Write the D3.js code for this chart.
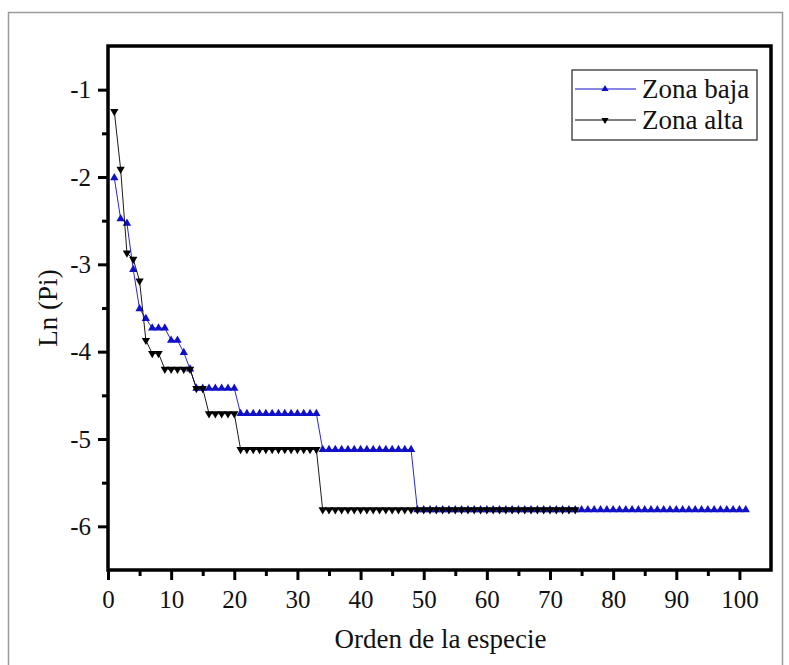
<!DOCTYPE html>
<html>
<head>
<meta charset="utf-8">
<script src="https://cdn.jsdelivr.net/npm/d3@7"></script>
<style>
  html, body { margin: 0; padding: 0; background: #fff; }
  svg { display: block; }
  text { font-family: "Liberation Serif", "Times New Roman", serif; fill: #111; }
</style>
</head>
<body>
<svg id="chart" width="789" height="665"></svg>
<script>
// Rank–abundance data: ln(Pi) for each species, ordered by rank
const zonaBaja = [
  -2.01, -2.48, -2.53, -3.06, -3.51, -3.62, -3.73, -3.73, -3.73, -3.87,
  -3.87, -4.01, -4.20, -4.42, -4.42, -4.42, -4.42, -4.42, -4.42, -4.42,
  -4.71, -4.71, -4.71, -4.71, -4.71, -4.71, -4.71, -4.71, -4.71, -4.71,
  -4.71, -4.71, -4.71, -5.12, -5.12, -5.12, -5.12, -5.12, -5.12, -5.12,
  -5.12, -5.12, -5.12, -5.12, -5.12, -5.12, -5.12, -5.12, -5.81, -5.81,
  -5.81, -5.81, -5.81, -5.81, -5.81, -5.81, -5.81, -5.81, -5.81, -5.81,
  -5.81, -5.81, -5.81, -5.81, -5.81, -5.81, -5.81, -5.81, -5.81, -5.81,
  -5.81, -5.81, -5.81, -5.81, -5.81, -5.81, -5.81, -5.81, -5.81, -5.81,
  -5.81, -5.81, -5.81, -5.81, -5.81, -5.81, -5.81, -5.81, -5.81, -5.81,
  -5.81, -5.81, -5.81, -5.81, -5.81, -5.81, -5.81, -5.81, -5.81, -5.81,
  -5.81
];
const zonaAlta = [
  -1.25, -1.91, -2.87, -2.94, -3.19, -3.87, -4.02, -4.02, -4.20, -4.20,
  -4.20, -4.20, -4.20, -4.42, -4.42, -4.71, -4.71, -4.71, -4.71, -4.71,
  -5.12, -5.12, -5.12, -5.12, -5.12, -5.12, -5.12, -5.12, -5.12, -5.12,
  -5.12, -5.12, -5.12, -5.81, -5.81, -5.81, -5.81, -5.81, -5.81, -5.81,
  -5.81, -5.81, -5.81, -5.81, -5.81, -5.81, -5.81, -5.81, -5.81, -5.81,
  -5.81, -5.81, -5.81, -5.81, -5.81, -5.81, -5.81, -5.81, -5.81, -5.81,
  -5.81, -5.81, -5.81, -5.81, -5.81, -5.81, -5.81, -5.81, -5.81, -5.81,
  -5.81, -5.81, -5.81, -5.81
];
const xTicks = [0, 10, 20, 30, 40, 50, 60, 70, 80, 90, 100];
const yTicks = [-1, -2, -3, -4, -5, -6];
const seriesNames = ["Zona baja", "Zona alta"];
const seriesColors = ["#1010c8", "#000000"];

const svg = d3.select("#chart");
const plot = { left: 108, top: 46, right: 771, bottom: 570 };

// page frame
svg.append("rect")
  .attr("x", 8.5).attr("y", 12.5).attr("width", 774).attr("height", 700)
  .attr("fill", "none").attr("stroke", "#9a9a9a").attr("stroke-width", 1.5);

const x = d3.scaleLinear().domain([0, 105]).range([plot.left, plot.right]);
const y = d3.scaleLinear().domain([-6.5, -0.5]).range([plot.bottom, plot.top]);

const toPoints = arr => arr.map((v, i) => ({ rank: i + 1, v }));
const baja = toPoints(zonaBaja);
const alta = toPoints(zonaAlta);

const line = d3.line().x(d => x(d.rank)).y(d => y(d.v));
const tri = d3.symbol().type(d3.symbolTriangle).size(30);

function drawSeries(data, color, down) {
  const g = svg.append("g");
  g.append("path").datum(data)
    .attr("fill", "none").attr("stroke", color).attr("stroke-width", 0.9)
    .attr("d", line);
  g.selectAll("path.m").data(data).join("path")
    .attr("class", "m")
    .attr("d", tri)
    .attr("fill", color)
    .attr("transform", d => `translate(${x(d.rank)},${y(d.v)})${down ? " rotate(180)" : ""}`);
}
drawSeries(baja, seriesColors[0], false);
drawSeries(alta, seriesColors[1], true);

// axes
const xAxis = d3.axisBottom(x).tickValues(xTicks).tickSize(10).tickPadding(10).tickFormat(d3.format("d"));
const xMinor = d3.axisBottom(x).tickValues(d3.range(5, 105, 10)).tickSize(6).tickFormat("");
const yAxis = d3.axisLeft(y).tickValues(yTicks).tickSize(10).tickPadding(7).tickFormat(d => d3.format("d")(d).replace("−", "-"));
const yMinor = d3.axisLeft(y).tickValues([-1.5, -2.5, -3.5, -4.5, -5.5]).tickSize(6).tickFormat("");

function styleAxis(g) {
  g.select(".domain").remove();
  g.selectAll(".tick line").attr("stroke", "#000").attr("stroke-width", 3);
  g.selectAll(".tick text").attr("font-size", 25).attr("font-family", "Liberation Serif, serif").attr("fill", "#111");
}
svg.append("g").attr("transform", `translate(0,${plot.bottom})`).call(xMinor).call(styleAxis);
svg.append("g").attr("transform", `translate(0,${plot.bottom})`).call(xAxis).call(styleAxis);
svg.append("g").attr("transform", `translate(${plot.left},0)`).call(yMinor).call(styleAxis);
svg.append("g").attr("transform", `translate(${plot.left},0)`).call(yAxis).call(styleAxis);

// plot frame
svg.append("rect")
  .attr("x", plot.left).attr("y", plot.top)
  .attr("width", plot.right - plot.left).attr("height", plot.bottom - plot.top)
  .attr("fill", "none").attr("stroke", "#000").attr("stroke-width", 3.5);

// axis titles
svg.append("text")
  .attr("x", (plot.left + plot.right) / 2 + 1).attr("y", 648)
  .attr("text-anchor", "middle").attr("font-size", 27)
  .text("Orden de la especie");
svg.append("text")
  .attr("transform", `translate(57,${(plot.top + plot.bottom) / 2}) rotate(-90)`)
  .attr("text-anchor", "middle").attr("font-size", 27)
  .text("Ln (Pi)");

// legend
const lg = svg.append("g").attr("transform", "translate(572,70)");
lg.append("rect").attr("width", 185).attr("height", 70)
  .attr("fill", "#fff").attr("stroke", "#222").attr("stroke-width", 1.2);
seriesNames.forEach((name, i) => {
  const cy = 19 + i * 31;
  lg.append("line").attr("x1", 3).attr("x2", 64).attr("y1", cy).attr("y2", cy)
    .attr("stroke", seriesColors[i]).attr("stroke-width", 1.2);
  lg.append("path").attr("d", d3.symbol().type(d3.symbolTriangle).size(22))
    .attr("fill", seriesColors[i])
    .attr("transform", `translate(33,${cy})${i === 1 ? " rotate(180)" : ""}`);
  lg.append("text").attr("x", 70).attr("y", cy + 9).attr("font-size", 27).text(name);
});
</script>
</body>
</html>
